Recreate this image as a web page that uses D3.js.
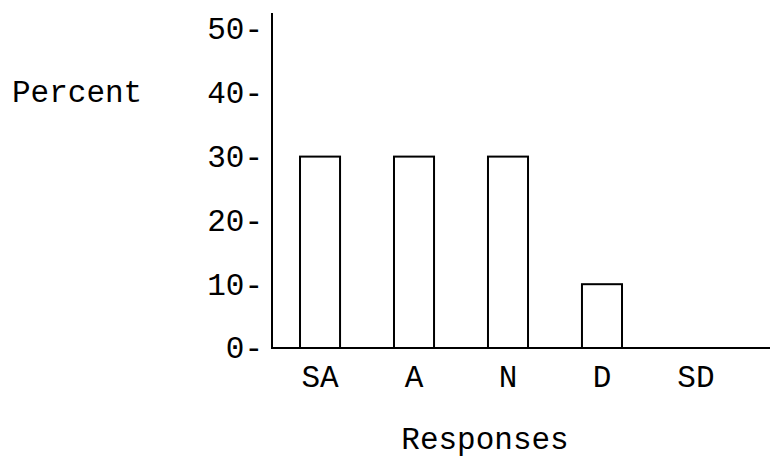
<!DOCTYPE html>
<html>
<head>
<meta charset="utf-8">
<script src="https://cdn.jsdelivr.net/npm/d3@7"></script>
<style>
  html, body { margin: 0; padding: 0; background: #fff; }
  svg { display: block; }
  text { font-family: "Liberation Mono", "Courier New", monospace; fill: #000; }
</style>
</head>
<body>
<svg id="chart" width="770" height="459"></svg>
<script>
const categories = ["SA", "A", "N", "D", "SD"];
const percents = [30, 30, 30, 10, 0];
const yTicks = [0, 10, 20, 30, 40, 50];
const yTitle = "Percent";
const xTitle = "Responses";

const svg = d3.select("#chart");
const W = 770, H = 459;
const axisX = 272, baseY = 348, topY = 13;
const fontSize = 31;

const y = d3.scaleLinear().domain([0, 50]).range([baseY, 29]);
const x = d3.scaleBand().domain(categories)
  .range([axisX, 744]).paddingInner(0.574).paddingOuter(0.298);

// bars
svg.append("g").selectAll("rect").data(categories).join("rect")
  .attr("x", d => x(d))
  .attr("y", (d, i) => y(percents[i]))
  .attr("width", x.bandwidth())
  .attr("height", (d, i) => y(0) - y(percents[i]))
  .attr("fill", "#fff")
  .attr("stroke", "#000")
  .attr("stroke-width", 2);

// y axis
const yAxis = d3.axisLeft(y).tickValues(yTicks).tickSize(0).tickPadding(9)
  .tickFormat(d => d + "-");
const gy = svg.append("g").attr("transform", `translate(${axisX},0)`).call(yAxis);
gy.select(".domain").remove();
gy.selectAll(".tick text")
  .attr("font-size", fontSize)
  .attr("font-family", "'Liberation Mono', monospace")
  .attr("fill", "#000");

svg.append("line")
  .attr("x1", axisX).attr("x2", axisX)
  .attr("y1", topY).attr("y2", baseY + 1)
  .attr("stroke", "#000").attr("stroke-width", 2);

// x axis
const xAxis = d3.axisBottom(x).tickSize(0).tickPadding(0);
const gx = svg.append("g").attr("transform", `translate(0,${baseY})`).call(xAxis);
gx.select(".domain").remove();
gx.selectAll(".tick text")
  .attr("font-size", fontSize)
  .attr("font-family", "'Liberation Mono', monospace")
  .attr("fill", "#000")
  .attr("dy", null)
  .attr("y", 39);

svg.append("line")
  .attr("x1", axisX - 1).attr("x2", W)
  .attr("y1", baseY).attr("y2", baseY)
  .attr("stroke", "#000").attr("stroke-width", 2);

// titles
svg.append("text").attr("x", 12).attr("y", 102)
  .attr("font-size", fontSize).text(yTitle);
svg.append("text").attr("x", 485).attr("y", 449)
  .attr("text-anchor", "middle").attr("font-size", fontSize).text(xTitle);
</script>
</body>
</html>
